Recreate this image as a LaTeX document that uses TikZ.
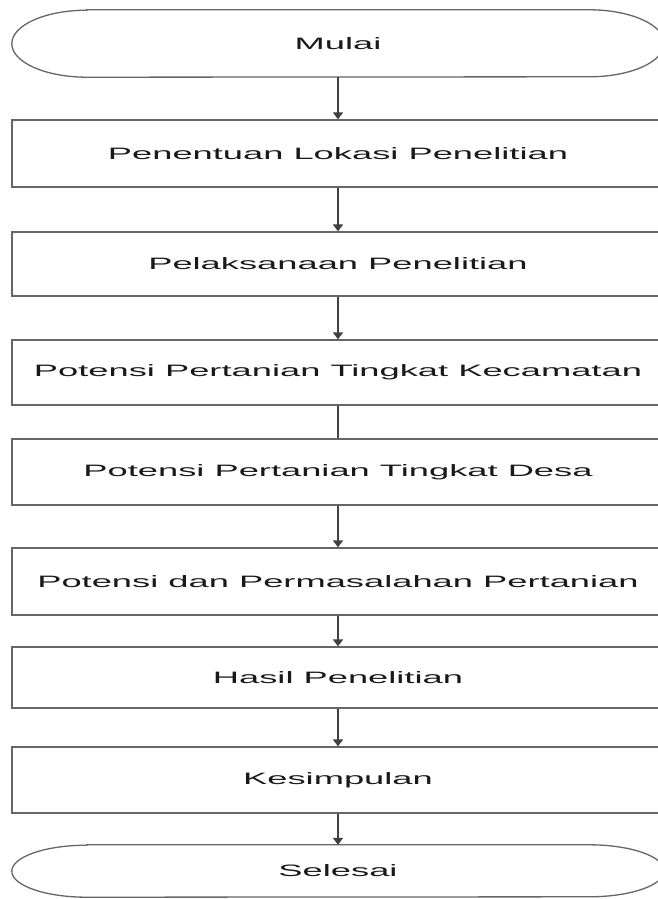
\documentclass[tikz,border=0pt]{standalone}
\usepackage{fontspec}
\setmainfont{Liberation Sans}
\usetikzlibrary{arrows.meta,calc}
\newcommand{\wtxt}[1]{\scalebox{2.2}[1]{#1}}
\begin{document}
\begin{tikzpicture}[x=1pt,y=-1pt,
  boxst/.style={draw=black!60, line width=1.3pt, minimum width=652pt, inner sep=0pt,
     font=\fontsize{16.5}{18}\selectfont, text=black!90},
  termst/.style={draw=none, minimum width=652pt, inner sep=0pt,
     font=\fontsize{16.5}{18}\selectfont, text=black!90},
  outl/.style={draw=black!60, line width=1.3pt},
  conn/.style={draw=black!75, line width=1.8pt, -{Triangle[width=10pt,length=7pt]}},
  plain/.style={draw=black!75, line width=1.8pt}]
\useasboundingbox (0,0) rectangle (658,899);
\clip (0,0) rectangle (658,899);
\fill[white] (0,0) rectangle (658,899);

\node[termst, minimum height=67pt] (mulai) at (338,43.5) {\wtxt{Mulai}};
\draw[outl] ($(mulai.north west)+(75,0)$) -- ($(mulai.north east)+(-75,0)$)
  arc[start angle=90, end angle=-90, x radius=75pt, y radius=33.5pt]
  -- ($(mulai.south west)+(75,0)$)
  arc[start angle=270, end angle=90, x radius=75pt, y radius=33.5pt] -- cycle;

\node[boxst, minimum height=67pt] (b1) at (338,153.5) {\wtxt{Penentuan Lokasi Penelitian}};
\node[boxst, minimum height=64pt] (b2) at (338,264) {\wtxt{Pelaksanaan Penelitian}};
\node[boxst, minimum height=65pt] (b3) at (338,372.5) {\wtxt{Potensi Pertanian Tingkat Kecamatan}};
\node[boxst, minimum height=66pt] (b4) at (338,472) {\wtxt{Potensi Pertanian Tingkat Desa}};
\node[boxst, minimum height=67pt] (b5) at (338,581.5) {\wtxt{Potensi dan Permasalahan Pertanian}};
\node[boxst, minimum height=61pt] (b6) at (338,677.5) {\wtxt{Hasil Penelitian}};
\node[boxst, minimum height=66pt] (b7) at (338,780) {\wtxt{Kesimpulan}};

\node[termst, minimum height=52pt] (selesai) at (338,871) {\wtxt{Selesai}};
\draw[outl] ($(selesai.north west)+(75,0)$) -- ($(selesai.north east)+(-75,0)$)
  arc[start angle=90, end angle=-90, x radius=75pt, y radius=26pt]
  -- ($(selesai.south west)+(75,0)$)
  arc[start angle=270, end angle=90, x radius=75pt, y radius=26pt] -- cycle;

\draw[conn] (mulai.south) -- (b1.north);
\draw[conn] (b1.south) -- (b2.north);
\draw[conn] (b2.south) -- (b3.north);
\draw[plain] (b3.south) -- (b4.north);
\draw[conn] (b4.south) -- (b5.north);
\draw[conn] (b5.south) -- (b6.north);
\draw[conn] (b6.south) -- (b7.north);
\draw[conn] (b7.south) -- (selesai.north);
\end{tikzpicture}
\end{document}
